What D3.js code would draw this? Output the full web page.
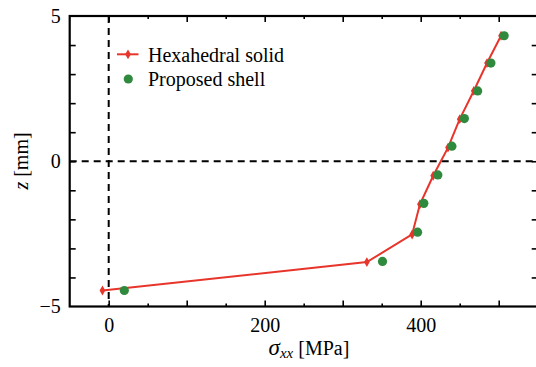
<!DOCTYPE html>
<html>
<head>
<meta charset="utf-8">
<script src="https://cdn.jsdelivr.net/npm/d3@7"></script>
<style>
  body { margin: 0; background: #fff; }
</style>
</head>
<body>
<div id="graphic"></div>
<script>
// values
const solidStress = [-8, 331, 389, 399, 416, 435, 450, 468, 485, 503];
const solidZ      = [-4.45, -3.47, -2.52, -1.48, -0.5, 0.47, 1.45, 2.42, 3.38, 4.32];
const shellStress = [20, 351, 396, 404, 422, 440, 456, 473, 490, 507];
const shellZ      = [-4.45, -3.45, -2.44, -1.45, -0.47, 0.52, 1.47, 2.42, 3.38, 4.32];

const xLabelTicks = [0, 200, 400];
const yLabelTicks = [-5, 0, 5];

const W = 536, H = 367;
const RED = "#e8352b", GREEN = "#2f8a3d";
const FONT = '"Liberation Serif"';

const svg = d3.select("#graphic").append("svg")
    .attr("width", W).attr("height", H);

const x = d3.scaleLinear().domain([-50, 550]).range([69.7, 537.7]);
const y = d3.scaleLinear().domain([-5, 5]).range([306.5, 16]);

const plotL = x.range()[0], plotR = x.range()[1];
const plotT = y.range()[1], plotB = y.range()[0];

// minor / major ticks pointing inward, all four sides
const majX = d3.range(0, 550, 100), minX = d3.range(50, 550, 100);
const yt = d3.range(-4, 5, 1);

function tickAxis(axisFn, scale, vals, size, tr){
    svg.append("g")
        .attr("transform", tr)
        .call(axisFn(scale).tickValues(vals).tickSize(size).tickFormat(""))
        .call(g => g.select(".domain").remove())
        .call(g => g.selectAll(".tick line").attr("stroke", "#000").attr("stroke-width", 1.6));
}
tickAxis(d3.axisBottom, x, majX, -6, `translate(0,${plotB})`);
tickAxis(d3.axisBottom, x, minX, -3, `translate(0,${plotB})`);
tickAxis(d3.axisTop, x, majX, -6, `translate(0,${plotT})`);
tickAxis(d3.axisTop, x, minX, -3, `translate(0,${plotT})`);
tickAxis(d3.axisLeft, y, yt, -6, `translate(${plotL},0)`);
tickAxis(d3.axisRight, y, yt, -6, `translate(${plotR},0)`);

// tick labels
svg.append("g")
    .attr("transform", `translate(0,${plotB})`)
    .call(d3.axisBottom(x).tickValues(xLabelTicks).tickSize(0).tickPadding(11))
    .call(g => g.select(".domain").remove())
    .call(g => g.selectAll("text").attr("font-size", 20).style("font-family", FONT).attr("fill", "#000"));

svg.append("g")
    .attr("transform", `translate(${plotL},0)`)
    .call(d3.axisLeft(y).tickValues(yLabelTicks).tickSize(0).tickPadding(9))
    .call(g => g.select(".domain").remove())
    .call(g => g.selectAll("text").attr("font-size", 20).style("font-family", FONT).attr("fill", "#000"));

// frame
svg.append("rect")
    .attr("x", plotL).attr("y", plotT)
    .attr("width", plotR - plotL).attr("height", plotB - plotT)
    .attr("fill", "none").attr("stroke", "#000").attr("stroke-width", 2.2);

// zero lines
svg.append("line")
    .attr("x1", x(0)).attr("x2", x(0)).attr("y1", plotT).attr("y2", plotB)
    .attr("stroke", "#000").attr("stroke-width", 2).attr("stroke-dasharray", "7,5");
svg.append("line")
    .attr("x1", plotL).attr("x2", plotR).attr("y1", y(0)).attr("y2", y(0))
    .attr("stroke", "#000").attr("stroke-width", 2).attr("stroke-dasharray", "7,5");

const solid = solidStress.map((s, i) => ({s: s, z: solidZ[i]}));
const shell = shellStress.map((s, i) => ({s: s, z: shellZ[i]}));

// hexahedral solid
svg.append("path")
    .datum(solid)
    .attr("d", d3.line().x(d => x(d.s)).y(d => y(d.z)))
    .attr("fill", "none").attr("stroke", RED).attr("stroke-width", 2);

const diamond = d3.symbol().type(d3.symbolDiamond).size(28);
svg.selectAll(".solid")
    .data(solid).enter().append("path")
    .attr("class", "solid")
    .attr("transform", d => `translate(${x(d.s)},${y(d.z)})`)
    .attr("d", diamond)
    .attr("fill", RED);

// proposed shell
svg.selectAll(".shell")
    .data(shell).enter().append("circle")
    .attr("class", "shell")
    .attr("cx", d => x(d.s)).attr("cy", d => y(d.z))
    .attr("r", 4.6)
    .attr("fill", GREEN);

// legend
const lg = svg.append("g");
lg.append("line").attr("x1", 117).attr("x2", 138.5).attr("y1", 54.3).attr("y2", 54.3)
    .attr("stroke", RED).attr("stroke-width", 2);
lg.append("path").attr("transform", "translate(128,54.3)").attr("d", diamond).attr("fill", RED);
lg.append("text").attr("x", 148).attr("y", 61.5).attr("font-size", 20)
    .style("font-family", FONT).text("Hexahedral solid");
lg.append("circle").attr("cx", 128.3).attr("cy", 79).attr("r", 4.6).attr("fill", GREEN);
lg.append("text").attr("x", 148).attr("y", 86).attr("font-size", 20)
    .style("font-family", FONT).text("Proposed shell");

// axis titles
const xt = svg.append("text")
    .attr("x", 309).attr("y", 355)
    .attr("text-anchor", "middle").attr("font-size", 20)
    .style("font-family", FONT);
xt.append("tspan").attr("font-style", "italic").attr("font-size", 23).text("σ");
xt.append("tspan").attr("font-style", "italic").attr("font-size", 15).attr("dy", 3).text("xx");
xt.append("tspan").attr("dy", -3).text(" [MPa]");

const ytl = svg.append("text")
    .attr("transform", `translate(28,161) rotate(-90)`)
    .attr("text-anchor", "middle").attr("font-size", 20)
    .style("font-family", FONT);
ytl.append("tspan").attr("font-style", "italic").text("z");
ytl.append("tspan").text(" [mm]");
</script>
</body>
</html>
